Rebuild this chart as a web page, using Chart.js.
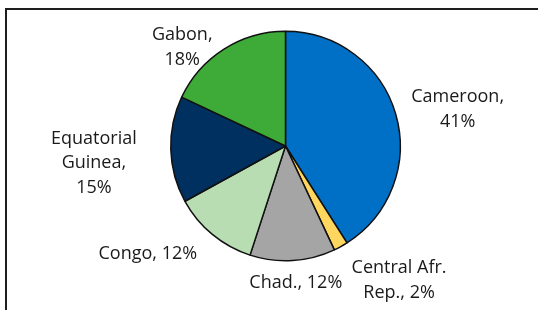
<!DOCTYPE html>
<html>
<head>
<meta charset="utf-8">
<script src="https://cdn.jsdelivr.net/npm/chart.js@4"></script>
<style>
  html, body { margin: 0; padding: 0; background: #fff; }
  #wrap { position: relative; width: 538px; height: 310px; overflow: hidden; }
  #frame { position: absolute; left: 5px; top: 8px; width: 600px; height: 400px;
           border-top: 2px solid #1e1e1e; border-left: 2px solid #1e1e1e; }
  canvas { position: absolute; left: 0; top: 0; }
</style>
</head>
<body>
<div id="wrap">
  <div id="frame"></div>
  <canvas id="c" width="538" height="310"></canvas>
</div>
<script>
const categories = ["Cameroon", "Central Afr. Rep.", "Chad.", "Congo", "Equatorial Guinea", "Gabon"];
const shares = [41, 2, 12, 12, 15, 18];
const labelLines = [
  ["Cameroon,", "41%"],
  ["Central Afr.", "Rep., 2%"],
  ["Chad., 12%"],
  ["Congo, 12%"],
  ["Equatorial", "Guinea,", "15%"],
  ["Gabon,", "18%"]
];
const colors = ["#0070C6", "#FFD75E", "#A5A5A5", "#B8DDB2", "#00305F", "#3EAA38"];

// label block centre relative to the pie centre, in units of the pie radius
const labelPlacement = [
  {x: 1.50, y: -0.32},
  {x: 0.99, y: 1.17},
  {x: 0.09, y: 1.19},
  {x: -1.20, y: 0.94},
  {x: -1.67, y: 0.15},
  {x: -0.90, y: -0.86}
];

const outsideLabels = {
  id: 'outsideLabels',
  afterDatasetsDraw(chart) {
    const ctx = chart.ctx;
    const meta = chart.getDatasetMeta(0);
    ctx.save();
    ctx.font = '18px "Open Sans", "Noto Sans", sans-serif';
    ctx.fillStyle = '#1a1a1a';
    ctx.textAlign = 'center';
    ctx.textBaseline = 'middle';
    const lh = 24.5;
    meta.data.forEach((arc, i) => {
      const p = arc.getProps(['x', 'y', 'outerRadius'], true);
      const cx = p.x + labelPlacement[i].x * p.outerRadius;
      const cy = p.y + labelPlacement[i].y * p.outerRadius;
      const lines = labelLines[i];
      const y0 = cy - (lines.length - 1) * lh / 2;
      lines.forEach((t, k) => ctx.fillText(t, cx, y0 + k * lh));
    });
    ctx.restore();
  }
};

new Chart(document.getElementById('c'), {
  type: 'pie',
  data: {
    labels: categories,
    datasets: [{
      data: shares,
      backgroundColor: colors,
      borderColor: '#111',
      borderWidth: 1.5,
      hoverOffset: 0,
      offset: 0
    }]
  },
  options: {
    responsive: false,
    animation: false,
    events: [],
    layout: { padding: { left: 170, right: 137, top: 30, bottom: 48 } },
    plugins: { legend: { display: false }, tooltip: { enabled: false } }
  },
  plugins: [outsideLabels]
});
</script>
</body>
</html>
